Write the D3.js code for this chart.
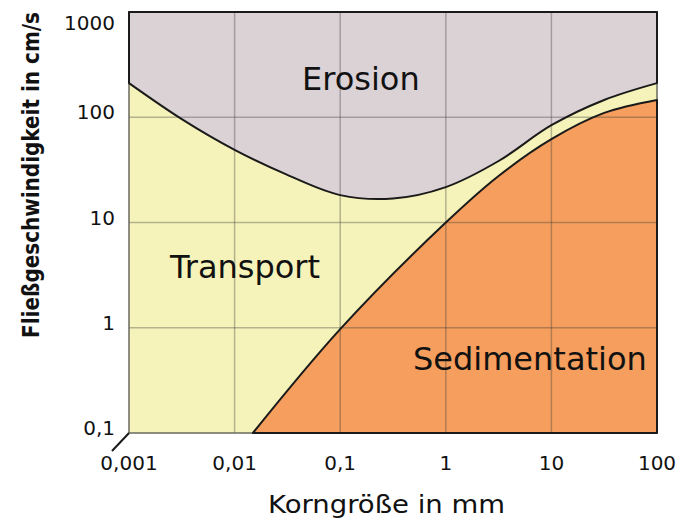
<!DOCTYPE html>
<html>
<head>
<meta charset="utf-8">
<script src="https://cdn.jsdelivr.net/npm/d3@7"></script>
<style>
    body { margin: 0; background: #fff; }
    svg text { font-family: "DejaVu Sans", sans-serif; fill: #111; }
</style>
</head>
<body>
<div id="chart"></div>
<script>
// Hjulström-Diagramm: Korngröße (mm) gegen Fließgeschwindigkeit (cm/s)
const xTicks = [0.001, 0.01, 0.1, 1, 10, 100];
const xTickLabels = ['0,001', '0,01', '0,1', '1', '10', '100'];
const yTicks = [0.1, 1, 10, 100, 1000];
const yTickLabels = ['0,1', '1', '10', '100', '1000'];

const erosionSize = [0.001, 0.00316, 0.01, 0.0316, 0.1, 0.316, 1, 3.16, 10, 31.6, 100];
const erosionSpeed = [211, 96, 49, 28.3, 18.2, 16.9, 21.7, 38.4, 84, 146, 211];

// Sedimentationsgrenze (untere Kurve)
const sedimentSize = [0.0149, 0.1, 1, 3.16, 10, 31.6, 100];
const sedimentSpeed = [0.1, 0.97, 10, 27.7, 62, 110, 146];

const regionLabels = ['Erosion', 'Transport', 'Sedimentation'];
// Anker der Bereichsnamen (Korngröße, Geschwindigkeit)
const regionSize = [0.0435, 0.00244, 0.489];
const regionSpeed = [181, 2.97, 0.397];

const width = 678, height = 521;
const margin = {top: 12, right: 21, bottom: 88, left: 129};

const svg = d3.select('#chart')
    .append('svg')
    .attr('width', width)
    .attr('height', height);

const x = d3.scaleLog()
    .domain([0.001, 100])
    .range([margin.left, width - margin.right]);

const y = d3.scaleLog()
    .domain([0.1, 1000])
    .range([height - margin.bottom, margin.top]);

const x0 = x.range()[0], x1 = x.range()[1];
const yTop = y.range()[1], yBottom = y.range()[0];

const erosion = erosionSize.map((d, i) => [d, erosionSpeed[i]]);
const sediment = sedimentSize.map((d, i) => [d, sedimentSpeed[i]]);

// Transport: ganzer Hintergrund
svg.append('rect')
    .attr('x', x0)
    .attr('y', yTop)
    .attr('width', x1 - x0)
    .attr('height', yBottom - yTop)
    .attr('fill', '#f5f3b9');

const erosionArea = d3.area()
    .x(d => x(d[0]))
    .y0(yTop)
    .y1(d => y(d[1]))
    .curve(d3.curveCatmullRom.alpha(0.5));

const sedimentArea = d3.area()
    .x(d => x(d[0]))
    .y0(yBottom)
    .y1(d => y(d[1]))
    .curve(d3.curveCatmullRom.alpha(0.5));

svg.append('path')
    .datum(erosion)
    .attr('d', erosionArea)
    .attr('fill', '#dbd2d6');

svg.append('path')
    .datum(sediment)
    .attr('d', sedimentArea)
    .attr('fill', '#f59e5d');

// Gitter
const grid = svg.append('g')
    .attr('stroke', '#3a3a3a')
    .attr('stroke-opacity', 0.35)
    .attr('stroke-width', 1.5);

grid.selectAll('.vgrid')
    .data(xTicks.slice(1, -1))
    .enter()
    .append('line')
    .attr('x1', d => x(d))
    .attr('x2', d => x(d))
    .attr('y1', yTop)
    .attr('y2', yBottom);

grid.selectAll('.hgrid')
    .data(yTicks.slice(1, -1))
    .enter()
    .append('line')
    .attr('x1', x0)
    .attr('x2', x1)
    .attr('y1', d => y(d))
    .attr('y2', d => y(d));

// Rahmen
svg.append('rect')
    .attr('x', x0)
    .attr('y', yTop)
    .attr('width', x1 - x0)
    .attr('height', yBottom - yTop)
    .attr('fill', 'none')
    .attr('stroke', '#6a6a60')
    .attr('stroke-width', 1.5);

// Umrisse der Bereiche
svg.append('path')
    .datum(erosion)
    .attr('d', erosionArea)
    .attr('fill', 'none')
    .attr('stroke', '#1a1a1a')
    .attr('stroke-width', 2)
    .attr('stroke-linejoin', 'round');

svg.append('path')
    .datum(sediment)
    .attr('d', sedimentArea)
    .attr('fill', 'none')
    .attr('stroke', '#1a1a1a')
    .attr('stroke-width', 2)
    .attr('stroke-linejoin', 'round');

// kleiner Schrägstrich am Ursprung
svg.append('line')
    .attr('x1', x0)
    .attr('y1', yBottom)
    .attr('x2', x0 - 17)
    .attr('y2', yBottom + 18)
    .attr('stroke', '#1a1a1a')
    .attr('stroke-width', 2);

// Achsenbeschriftungen
svg.selectAll('.xlabel')
    .data(xTicks)
    .enter()
    .append('text')
    .attr('x', d => x(d))
    .attr('y', yBottom + 37)
    .attr('text-anchor', 'middle')
    .style('font-size', '20px')
    .text((d, i) => xTickLabels[i]);

svg.selectAll('.ylabel')
    .data(yTicks)
    .enter()
    .append('text')
    .attr('x', x0 - 14)
    .attr('y', d => Math.max(y(d) + 2, yTop + 18))
    .attr('text-anchor', 'end')
    .style('font-size', '20px')
    .text((d, i) => yTickLabels[i]);

svg.append('text')
    .attr('x', 268)
    .attr('y', yBottom + 80)
    .attr('textLength', 237)
    .attr('lengthAdjust', 'spacingAndGlyphs')
    .style('font-size', '24px')
    .text('Korngröße in mm');

svg.append('text')
    .attr('transform', 'translate(39, 175) rotate(-90) scale(1, 1.15)')
    .attr('text-anchor', 'middle')
    .style('font-size', '20px')
    .style('font-weight', 'bold')
    .text('Fließgeschwindigkeit in cm/s');

// Bereichsnamen
svg.selectAll('.region')
    .data(regionLabels)
    .enter()
    .append('text')
    .attr('x', (d, i) => x(regionSize[i]))
    .attr('y', (d, i) => y(regionSpeed[i]))
    .style('font-size', '32px')
    .text(d => d);
</script>
</body>
</html>
